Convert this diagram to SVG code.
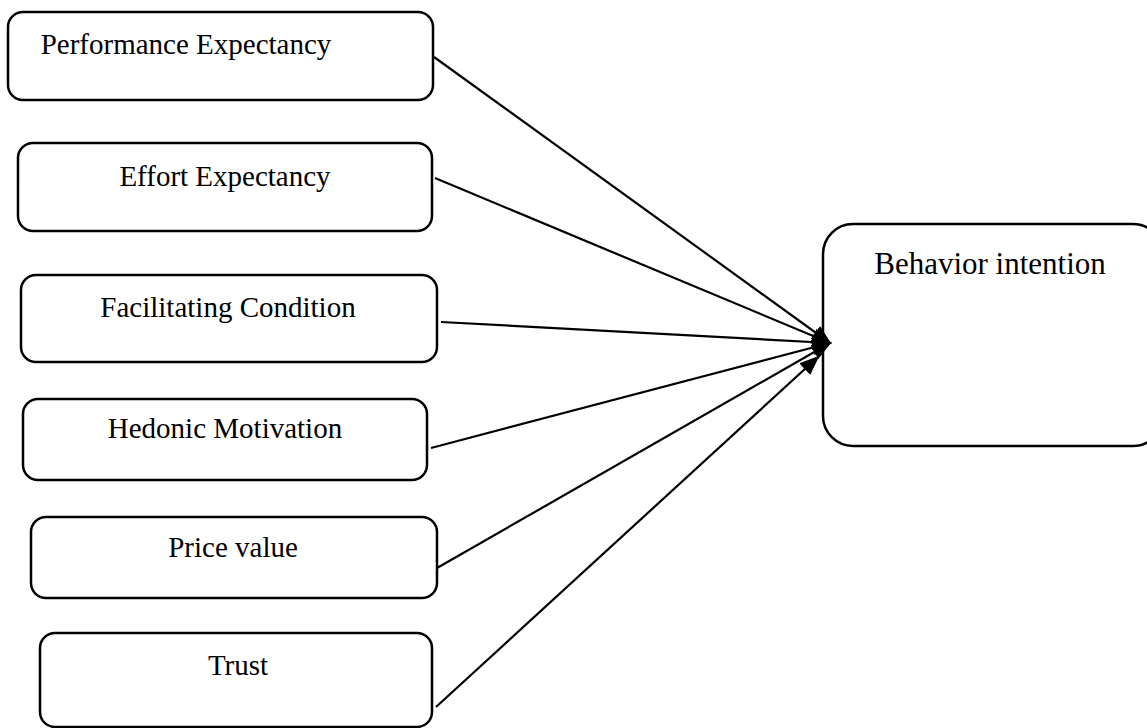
<svg xmlns="http://www.w3.org/2000/svg" width="1147" height="728" viewBox="0 0 1147 728">
<style>
.box{fill:#fff;stroke:#000;stroke-width:2.5}
.lbl{font-family:"Liberation Serif","Times New Roman",serif;font-size:29px;fill:#000;text-anchor:middle}
.big{font-size:31px}
.conn line{stroke:#000;stroke-width:2.2;marker-end:url(#ah)}
</style>
<defs>
<marker id="ah" markerUnits="userSpaceOnUse" markerWidth="20" markerHeight="16" refX="18" refY="8" orient="auto">
<path d="M0,0 L20,8 L0,16 Z" fill="#000"/>
</marker>
</defs>
<rect width="1147" height="728" fill="#fff"/>
<g id="n-perf"><rect class="box" x="8" y="12" width="425" height="88" rx="15"/><text class="lbl" x="186" y="54">Performance Expectancy</text></g>
<g id="n-effort"><rect class="box" x="18" y="143" width="414" height="88" rx="15"/><text class="lbl" x="225" y="186">Effort Expectancy</text></g>
<g id="n-facil"><rect class="box" x="21" y="275" width="416" height="87" rx="15"/><text class="lbl" x="228" y="317">Facilitating Condition</text></g>
<g id="n-hedonic"><rect class="box" x="23" y="399" width="404" height="81" rx="15"/><text class="lbl" x="225" y="438">Hedonic Motivation</text></g>
<g id="n-price"><rect class="box" x="31" y="517" width="406" height="81" rx="15"/><text class="lbl" x="233" y="557">Price value</text></g>
<g id="n-trust"><rect class="box" x="40" y="633" width="392" height="94" rx="15"/><text class="lbl" x="238" y="675">Trust</text></g>
<g id="n-bi"><rect class="box" x="823" y="224" width="340" height="222" rx="30"/><text class="lbl big" x="990" y="274">Behavior intention</text></g>
<g id="connectors" class="conn">
<line x1="434" y1="57" x2="830" y2="343"/>
<line x1="435" y1="178" x2="830" y2="343"/>
<line x1="441" y1="322" x2="830" y2="343"/>
<line x1="431" y1="448" x2="830" y2="343"/>
<line x1="437" y1="568" x2="830" y2="343"/>
<line x1="436" y1="707" x2="818" y2="357"/>
</g>
</svg>
